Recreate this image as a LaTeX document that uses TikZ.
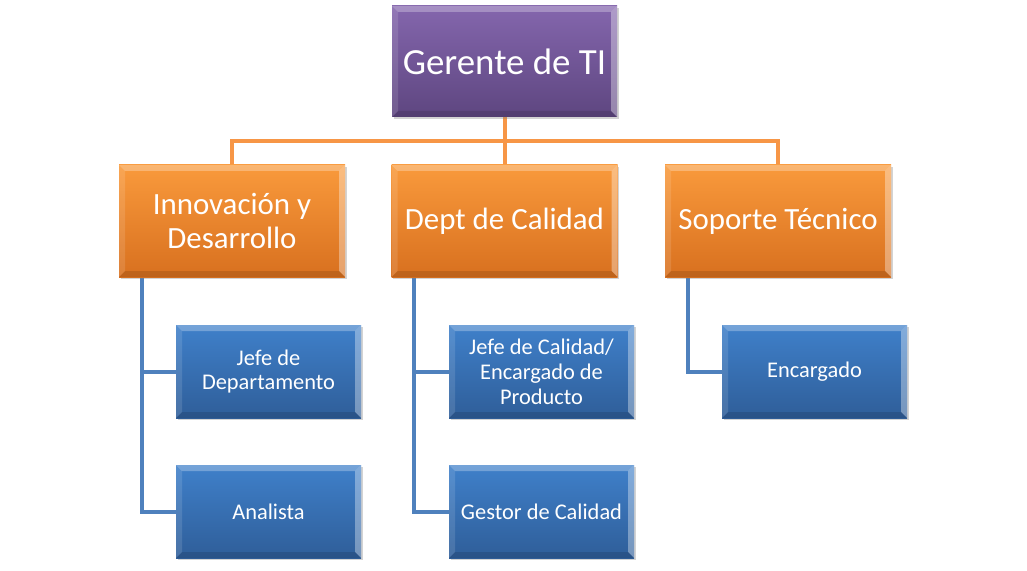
\documentclass[tikz,border=0pt]{standalone}
\usepackage{fontspec}
\setmainfont{Carlito}
\usetikzlibrary{shadows,backgrounds}
\definecolor{purpT}{HTML}{8466AD}
\definecolor{purpB}{HTML}{5E4680}
\definecolor{orT}{HTML}{F99A3C}
\definecolor{orB}{HTML}{D8701F}
\definecolor{blT}{HTML}{3F80CA}
\definecolor{blB}{HTML}{2F5E99}
\definecolor{orLine}{HTML}{F79646}
\definecolor{blLine}{HTML}{4F81BD}
\tikzset{
  bevel/.style={path picture={
    \fill[white,opacity=0.28] (path picture bounding box.north west) -- (path picture bounding box.north east)
      -- ([xshift=-6bp,yshift=-6bp]path picture bounding box.north east) -- ([xshift=6bp,yshift=-6bp]path picture bounding box.north west) -- cycle;
    \fill[white,opacity=0.35] (path picture bounding box.north east) -- (path picture bounding box.south east)
      -- ([xshift=-6bp,yshift=6bp]path picture bounding box.south east) -- ([xshift=-6bp,yshift=-6bp]path picture bounding box.north east) -- cycle;
    \fill[white,opacity=0.12] (path picture bounding box.north west) -- (path picture bounding box.south west)
      -- ([xshift=6bp,yshift=6bp]path picture bounding box.south west) -- ([xshift=6bp,yshift=-6bp]path picture bounding box.north west) -- cycle;
    \fill[black,opacity=0.12] (path picture bounding box.south west) -- (path picture bounding box.south east)
      -- ([xshift=-6bp,yshift=6bp]path picture bounding box.south east) -- ([xshift=6bp,yshift=6bp]path picture bounding box.south west) -- cycle;
  }},
  box/.style={rectangle, inner sep=0pt, text=white, align=center, bevel,
    drop shadow={opacity=0.35, shadow xshift=1.5bp, shadow yshift=-2bp}},
  topbox/.style={box, top color=purpT, bottom color=purpB, minimum width=225bp, minimum height=111bp,
    font=\fontsize{37}{43}\selectfont},
  midbox/.style={box, top color=orT, bottom color=orB, minimum width=226bp, minimum height=112bp,
    font=\fontsize{31}{34}\selectfont},
  lowbox/.style={box, top color=blT, bottom color=blB, minimum width=185bp, minimum height=93bp,
    font=\fontsize{22.5}{25}\selectfont},
  orconn/.style={draw=orLine, line width=4bp},
  blconn/.style={draw=blLine, line width=4bp},
}
\begin{document}
\begin{tikzpicture}[x=1bp,y=-1bp]
\useasboundingbox (0,0) rectangle (1027,571);
\node[topbox] (g) at (504.5,61.5) {Gerente de TI};
\node[midbox] (inn) at (232,221) {Innovación y\\Desarrollo};
\node[midbox] (dep) at (504.5,221) {Dept de Calidad};
\node[midbox] (sop) at (778,221) {Soporte Técnico};
\node[lowbox] (jd) at (268.5,371.5) {Jefe de\\Departamento};
\node[lowbox] (an) at (268.5,511.5) {Analista};
\node[lowbox] (jc) at (541.5,371.5) {Jefe de Calidad/\\Encargado de\\Producto};
\node[lowbox] (gc) at (541.5,511.5) {Gestor de Calidad};
\node[lowbox] (en) at (814.5,371.5) {Encargado};
\coordinate (bus) at (504.5,141);
\begin{scope}[on background layer]
\draw[orconn] (g.south) -- (dep.north);
\draw[orconn] (bus) -| (inn.north);
\draw[orconn] (bus) -| (sop.north);
\draw[blconn] ([xshift=23bp]inn.south west) |- (jd.west);
\draw[blconn] ([xshift=23bp]inn.south west) |- (an.west);
\draw[blconn] ([xshift=23bp]dep.south west) |- (jc.west);
\draw[blconn] ([xshift=23bp]dep.south west) |- (gc.west);
\draw[blconn] ([xshift=23bp]sop.south west) |- (en.west);
\end{scope}
\end{tikzpicture}
\end{document}
